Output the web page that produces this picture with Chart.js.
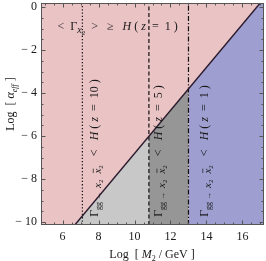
<!DOCTYPE html>
<html>
<head>
<meta charset="utf-8">
<script src="https://cdn.jsdelivr.net/npm/chart.js@4.4.1/dist/chart.umd.min.js"></script>
<style>
  html, body { margin: 0; padding: 0; background: #fff; }
</style>
</head>
<body>
<canvas id="c" width="266" height="261"></canvas>
<script>
// axis ranges and ticks
const xRange = [4.8, 17.2];
const yRange = [-10.14, 0.19];
const xTicks = [6, 8, 10, 12, 14, 16];
const yTicks = [0, -2, -4, -6, -8, -10];

// boundary line  <Gamma> = H(z=1)
const boundaryX = [6.68, 16.99];
const boundaryY = [-10.14, 0.19];

// vertical lines for z = 10, 5, 1
const zX = [7.1, 10.8, 13.0];
const zLabels = ['10', '5', '1'];

// shaded regions below the boundary
const lightX = [6.68, 10.8];
const lightY = [-10.14, -6.0];
const darkX = [10.8, 13.0];
const darkY = [-6.0, -3.8];
const blueX = [13.0, 16.99, 17.2];
const blueY = [-3.8, 0.19, 0.19];
const pinkX = [4.8, 17.2];
const pinkY = [0.19, 0.19];

const SERIF = "'Liberation Serif', 'DejaVu Serif', serif";

function pts(xs, ys) {
  return xs.map(function (v, i) { return { x: v, y: ys[i] }; });
}

function area(xs, ys, color, order) {
  return {
    data: pts(xs, ys), showLine: true, fill: 'start', backgroundColor: color,
    borderWidth: 0, pointRadius: 0, order: order
  };
}

function vline(xv, dash) {
  return {
    data: [{ x: xv, y: yRange[0] }, { x: xv, y: yRange[1] }], showLine: true, fill: false,
    borderColor: '#111', borderWidth: 1.2, borderDash: dash, pointRadius: 0, order: 1
  };
}

// draw a run of text pieces: [text, italic, size, dy, overline]
function rich(ctx, segs, x, y, rot, align) {
  ctx.save();
  ctx.translate(x, y);
  if (rot) ctx.rotate(-Math.PI / 2);
  var w = 0;
  segs.forEach(function (s) {
    ctx.font = (s[1] ? 'italic ' : '') + (s[2] || 12) + 'px ' + SERIF;
    w += ctx.measureText(s[0]).width;
  });
  var cx = align === 'center' ? -w / 2 : 0;
  ctx.textBaseline = 'alphabetic';
  ctx.textAlign = 'left';
  ctx.fillStyle = '#1a1a1a';
  ctx.strokeStyle = '#1a1a1a';
  segs.forEach(function (s) {
    var size = s[2] || 12;
    ctx.font = (s[1] ? 'italic ' : '') + size + 'px ' + SERIF;
    var sw = ctx.measureText(s[0]).width;
    ctx.fillText(s[0], cx, s[3] || 0);
    if (s[4]) {
      ctx.lineWidth = 0.7;
      ctx.beginPath();
      ctx.moveTo(cx + 0.5, (s[3] || 0) - size * 0.72);
      ctx.lineTo(cx + sw, (s[3] || 0) - size * 0.72);
      ctx.stroke();
    }
    cx += sw;
  });
  ctx.restore();
}

function rateText(z) {
  return [
    ['\u0393', false, 12], ['gg', false, 8, 3], [' \u2192  ', false, 8, 3],
    ['x', true, 11, 3], ['2', false, 7, 5], ['  '], ['x', true, 11, 3, true], ['2', false, 7, 5],
    ['   <   '], ['H', true], [' ( '], ['z', true], ['  =  ' + z + ' )']
  ];
}

const frame = {
  id: 'frame',
  afterDatasetsDraw: function (chart) {
    var ctx = chart.ctx, a = chart.chartArea, sx = chart.scales.x, sy = chart.scales.y;
    ctx.save();
    ctx.strokeStyle = '#555';
    ctx.lineWidth = 1;
    ctx.beginPath();
    for (var v = 5; v <= 17.001; v += 0.5) {
      var len = (Math.abs(v % 2) < 0.01) ? 4.5 : 2.5;
      var px = Math.round(sx.getPixelForValue(v)) + 0.5;
      ctx.moveTo(px, a.bottom); ctx.lineTo(px, a.bottom - len);
      ctx.moveTo(px, a.top); ctx.lineTo(px, a.top + len);
    }
    for (var u = -10; u <= 0.001; u += 0.5) {
      var l2 = (Math.abs(u % 2) < 0.01) ? 4.5 : 2.5;
      var py = Math.round(sy.getPixelForValue(u)) + 0.5;
      ctx.moveTo(a.left, py); ctx.lineTo(a.left + l2, py);
      ctx.moveTo(a.right, py); ctx.lineTo(a.right - l2, py);
    }
    ctx.stroke();
    ctx.strokeRect(a.left + 0.5, a.top + 0.5, a.right - a.left - 1, a.bottom - a.top - 1);
    ctx.restore();

    // labels inside the plot
    rich(ctx, [['<  \u0393'], ['x', true, 10, 3], ['2', false, 7, 5], ['  >   \u2265   '], ['H', true],
      [' ( '], ['z', true], ['  =  1 )']], sx.getPixelForValue(9.06), sy.getPixelForValue(-1.05), false, 'center');
    var bx = [7.98, 11.52, 14.07];
    bx.forEach(function (xv, i) {
      rich(ctx, rateText(zLabels[i]), sx.getPixelForValue(xv), sy.getPixelForValue(-9.76), true, 'left');
    });

    // axis titles
    rich(ctx, [['Log  [ '], ['M', true], ['2', false, 8, 3], [' / GeV ]']], 152, 258, false, 'center');
    rich(ctx, [['Log  [ '], ['\u03b1', true], ['eff', true, 8, 3], [' ]']], 14, 104, true, 'center');
  }
};

new Chart(document.getElementById('c'), {
  type: 'scatter',
  data: {
    datasets: [
      area(pinkX, pinkY, 'rgb(234,195,197)', 10),
      area(lightX, lightY, 'rgb(200,200,200)', 5),
      area(darkX, darkY, 'rgb(150,150,150)', 5),
      area(blueX, blueY, 'rgb(158,158,208)', 5),
      {
        data: pts(boundaryX, boundaryY), showLine: true, fill: false,
        borderColor: '#2a1a2c', borderWidth: 1.4, pointRadius: 0, order: 1
      },
      vline(zX[0], [1.3, 2]),
      vline(zX[1], [4, 2.5]),
      vline(zX[2], [5, 2, 1.2, 2])
    ]
  },
  options: {
    responsive: false,
    animation: false,
    devicePixelRatio: 1,
    layout: { padding: { left: 0, top: 3, right: 2, bottom: 0 } },
    plugins: { legend: { display: false }, tooltip: { enabled: false } },
    scales: {
      x: {
        type: 'linear', min: xRange[0], max: xRange[1],
        grid: { display: false, drawTicks: false },
        border: { display: false },
        afterBuildTicks: function (s) { s.ticks = xTicks.map(function (v) { return { value: v }; }); },
        afterFit: function (s) {
          s.height = 36;
          s.paddingLeft = s.paddingRight = s.paddingTop = s.paddingBottom = 0;
        },
        ticks: {
          padding: 5, color: '#1a1a1a', maxRotation: 0, autoSkip: false,
          font: { family: SERIF, size: 12 },
          callback: function (v) { return String(v); }
        }
      },
      y: {
        type: 'linear', min: yRange[0], max: yRange[1],
        grid: { display: false, drawTicks: false },
        border: { display: false },
        afterBuildTicks: function (s) { s.ticks = yTicks.map(function (v) { return { value: v }; }); },
        afterFit: function (s) {
          s.width = 41;
          s.paddingLeft = s.paddingRight = s.paddingTop = s.paddingBottom = 0;
        },
        ticks: {
          padding: 4, color: '#1a1a1a', autoSkip: false,
          font: { family: SERIF, size: 12 },
          callback: function (v) { return v < 0 ? '\u2212 ' + Math.abs(v) : String(v); }
        }
      }
    }
  },
  plugins: [frame]
});
</script>
</body>
</html>
